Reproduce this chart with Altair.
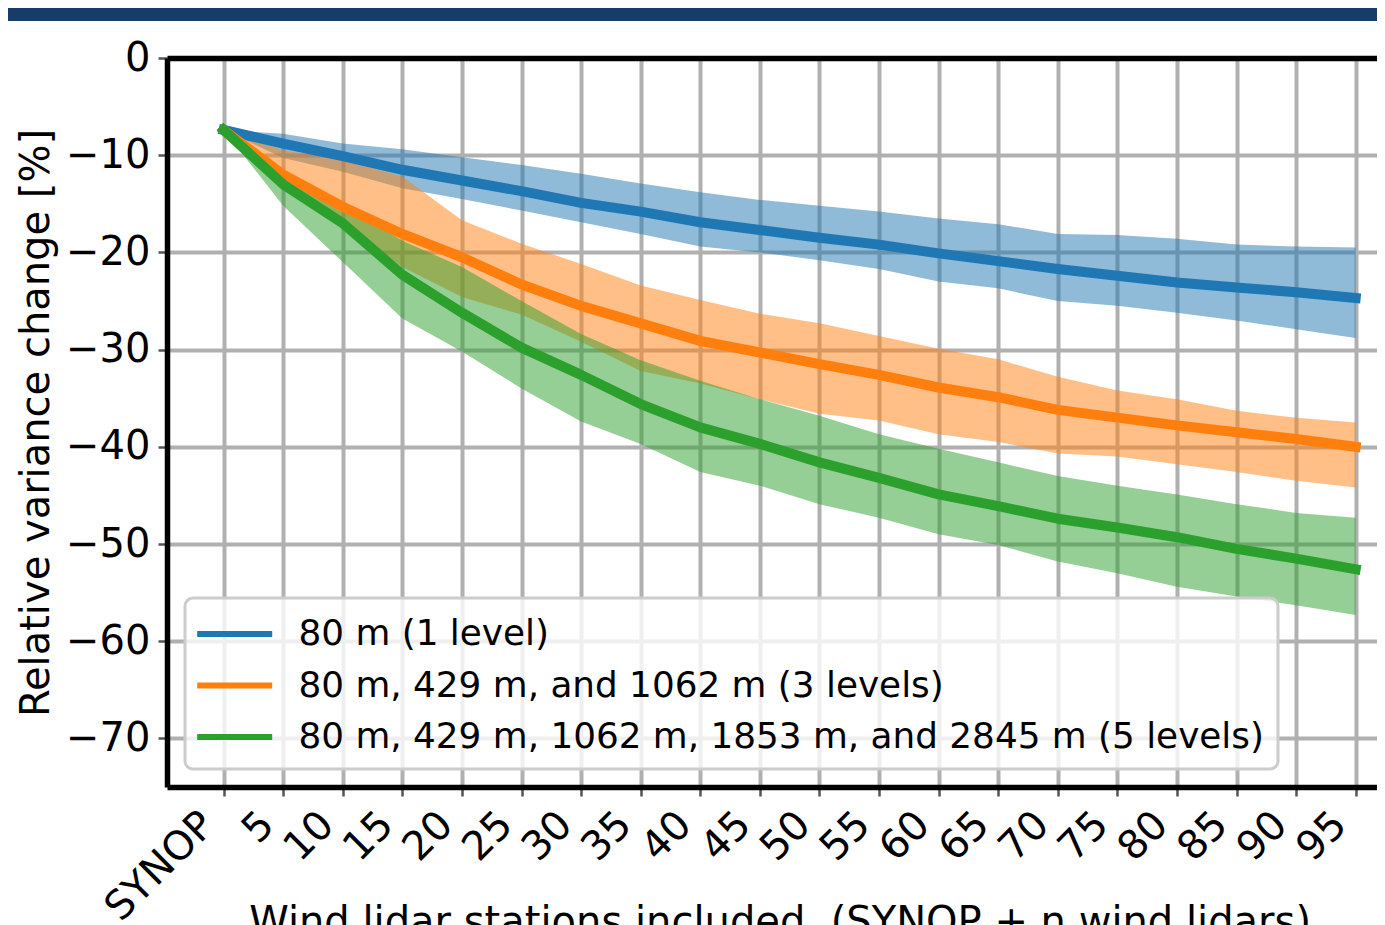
import json
import altair as alt
import pandas as pd

FONT = "DejaVu Sans"

# ---------------- data ----------------
n_vals = [0, 5, 10, 15, 20, 25, 30, 35, 40, 45, 50, 55, 60, 65, 70, 75, 80, 85, 90, 95]
x_tick_labels = ["SYNOP", "5", "10", "15", "20", "25", "30", "35", "40", "45",
                 "50", "55", "60", "65", "70", "75", "80", "85", "90", "95"]
y_tick_values = [0, -10, -20, -30, -40, -50, -60, -70]

series_names = [
    "80 m (1 level)",
    "80 m, 429 m, and 1062 m (3 levels)",
    "80 m, 429 m, 1062 m, 1853 m, and 2845 m (5 levels)",
]
series_colors = ["#1f77b4", "#ff7f0e", "#2ca02c"]

blue_mean = [-7.4, -8.8, -10.1, -11.5, -12.6, -13.7, -14.9, -15.8, -16.9, -17.7,
             -18.5, -19.2, -20.1, -20.9, -21.7, -22.4, -23.1, -23.6, -24.1, -24.7]
blue_hi = [-7.4, -7.8, -8.8, -9.4, -10.2, -11.0, -11.9, -12.9, -13.8, -14.6,
           -15.2, -15.8, -16.5, -17.1, -18.1, -18.2, -18.6, -19.2, -19.4, -19.5]
blue_lo = [-7.4, -10.3, -11.7, -13.4, -14.5, -15.7, -16.9, -18.1, -19.4, -20.0,
           -20.8, -21.7, -23.0, -23.7, -25.0, -25.5, -26.2, -27.0, -27.9, -28.8]

orange_mean = [-7.4, -12.0, -15.3, -18.1, -20.5, -23.3, -25.5, -27.3, -29.1, -30.3,
               -31.5, -32.6, -33.9, -34.9, -36.2, -37.0, -37.8, -38.5, -39.2, -40.0]
orange_hi = [-7.4, -9.5, -10.5, -12.2, -16.7, -19.1, -21.2, -23.4, -24.9, -26.3,
             -27.3, -28.6, -29.9, -31.0, -32.8, -34.2, -35.1, -36.3, -37.0, -37.5]
orange_lo = [-7.4, -13.3, -17.1, -21.5, -24.6, -26.4, -29.2, -32.2, -33.5, -35.1,
             -36.6, -37.3, -38.7, -39.5, -40.7, -41.0, -41.8, -42.6, -43.5, -44.2]

green_mean = [-7.4, -13.0, -17.0, -22.3, -26.2, -29.8, -32.6, -35.6, -38.0, -39.7,
              -41.6, -43.2, -44.9, -46.1, -47.4, -48.3, -49.3, -50.5, -51.5, -52.6]
green_hi = [-7.4, -11.5, -15.0, -18.8, -21.5, -25.0, -28.4, -31.1, -33.2, -35.1,
            -36.8, -38.7, -40.2, -41.6, -43.0, -44.0, -44.9, -45.9, -46.8, -47.3]
green_lo = [-7.4, -15.2, -21.0, -26.8, -30.2, -34.0, -37.4, -39.7, -42.6, -44.0,
            -45.9, -47.3, -49.0, -50.1, -51.8, -53.0, -54.4, -55.4, -56.3, -57.3]

rows = []
for name, m, lo, hi in zip(series_names,
                           [blue_mean, orange_mean, green_mean],
                           [blue_lo, orange_lo, green_lo],
                           [blue_hi, orange_hi, green_hi]):
    for i, n in enumerate(n_vals):
        rows.append({"series": name, "n": n, "mean": m[i], "lo": lo[i], "hi": hi[i]})
df = pd.DataFrame(rows)

# ---------------- scales / axes ----------------
xscale = alt.Scale(domain=[-4.75, 96.79], nice=False, zero=False)
yscale = alt.Scale(domain=[-75, 0], nice=False, zero=False)
cscale = alt.Scale(domain=series_names, range=series_colors)

x_label_expr = f"{json.dumps(x_tick_labels)}[indexof({json.dumps(n_vals)}, datum.value)]"

bottom_axis = alt.Axis(
    values=n_vals, labelExpr=x_label_expr,
    labelAngle=-45, labelAlign="right", labelBaseline="top",
    labelPadding=8, labelOffset=-30, labelFontSize=40, labelFont=FONT,
    labelColor="black", labelOverlap=False, labelFlush=False,
    tickSize=9, tickWidth=2.5, tickColor="#555555",
    domainColor="black", domainWidth=5.5,
    grid=True, gridColor="#b0b0b0", gridWidth=4,
    title="Wind lidar stations included \u00a0(SYNOP + n wind lidars)",
    titleFontSize=40, titleFont=FONT, titleFontWeight="normal", titleColor="black",
    titleX=612.6, titleY=147, titleBaseline="alphabetic", titleAlign="center",
)

left_axis = alt.Axis(
    values=y_tick_values, labelExpr="replace(datum.label, '-', '\u2212')",
    labelFontSize=40, labelFont=FONT, labelColor="black", labelPadding=8,
    labelOverlap=False, labelFlush=False,
    tickSize=9, tickWidth=2.5, tickColor="#555555",
    domainColor="black", domainWidth=5.5,
    grid=True, gridColor="#b0b0b0", gridWidth=4,
    title="Relative variance change [%]",
    titleFontSize=40, titleFont=FONT, titleFontWeight="normal", titleColor="black",
    titleX=-118.4, titleY=364.5, titleAngle=-90, titleAlign="center",
    titleBaseline="alphabetic",
)

top_axis = alt.Axis(orient="top", labels=False, ticks=False, grid=False,
                    domain=True, domainColor="black", domainWidth=5.5,
                    title=None, zindex=1)

# legend handle: a horizontal stroke twice as long as the nominal symbol size
legend = alt.Legend(title=None, orient="bottom-left", offset=18,
                    labelLimit=2000, symbolType="M-1.27,0L2.73,0",
                    symbolSize=1406.25, symbolStrokeWidth=6, symbolOpacity=1,
                    labelOffset=55.5)

base = alt.Chart(df)

areas = base.mark_area(opacity=0.5).encode(
    x=alt.X("n:Q", scale=xscale, axis=bottom_axis),
    y=alt.Y("lo:Q", scale=yscale, axis=left_axis),
    y2="hi:Q",
    fill=alt.Fill("series:N", scale=cscale, legend=legend),
)

lines = base.mark_line(strokeWidth=10, strokeCap="square", strokeJoin="round").encode(
    x=alt.X("n:Q", scale=xscale, axis=top_axis),
    y=alt.Y("mean:Q", scale=yscale, axis=left_axis),
    color=alt.Color("series:N", scale=cscale, legend=legend),
)

main = alt.layer(areas, lines).resolve_axis(x="independent").properties(
    width=1210, height=729
)

band = alt.Chart(pd.DataFrame({"v": [0]})).mark_point(opacity=0).properties(
    width=1369, height=13,
    view=alt.ViewBackground(fill="#183c69", stroke=None),
)

spacer = alt.Chart(pd.DataFrame({"v": [0]})).mark_point(opacity=0).properties(
    width=8, height=1
)

row = (
    alt.hconcat(spacer, main, spacing=0)
    .resolve_scale(color="independent", fill="independent")
    .resolve_legend(color="independent", fill="independent")
)

chart = (
    alt.vconcat(band, row, spacing=17)
    .resolve_scale(color="independent", fill="independent")
    .resolve_legend(color="independent", fill="independent")
    .properties(padding={"left": 0, "top": 0, "right": 0, "bottom": 0},
                background="white")
    .configure(font=FONT)
    .configure_view(stroke=None)
    .configure_legend(
        padding=14, rowPadding=11.5,
        strokeColor="#cccccc", strokeWidth=3,
        fillColor="rgba(255,255,255,0.8)", cornerRadius=8,
        labelFontSize=35.8, labelFont=FONT, labelColor="black",
    )
)

chart.save("out.html", embed_options={"renderer": "svg", "actions": False})
